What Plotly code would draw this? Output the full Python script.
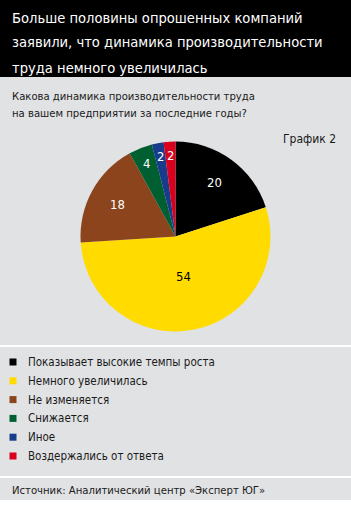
import math
import plotly.graph_objects as go

categories = ["Показывает высокие темпы роста", "Немного увеличилась", "Не изменяется",
              "Снижается", "Иное", "Воздержались от ответа"]
values = [20, 54, 18, 4, 2, 2]
colors = ["#000000", "#ffdb00", "#8b441c", "#005f30", "#183c8c", "#d8001c"]
label_colors = ["white", "black", "white", "white", "white", "white"]

title_lines = ["Больше половины опрошенных компаний",
               "заявили, что динамика производительности",
               "труда немного увеличилась"]
question_lines = ["Какова динамика производительности труда",
                  "на вашем предприятии за последние годы?"]
chart_tag = "График 2"
source = "Источник: Аналитический центр «Эксперт ЮГ»"

W, H = 351, 508
FONT = "DejaVu Sans Condensed, Roboto, sans-serif"
BG = "#e1e2e4"

def px(x):
    return x / W

def py(y):
    return 1 - y / H

cx, cy, R = 175.5, 236.5, 95

fig = go.Figure()
fig.add_trace(go.Pie(
    labels=categories, values=values, sort=False, direction="clockwise", rotation=0,
    marker=dict(colors=colors, line=dict(width=0)),
    textinfo="none", showlegend=False, hoverinfo="label+value",
    domain=dict(x=[px(cx - R), px(cx + R)], y=[py(cy + R), py(cy - R)]),
))

shapes = [
    dict(type="rect", xref="paper", yref="paper", x0=0, x1=1, y0=py(500), y1=py(77),
         fillcolor=BG, line_width=0, layer="below"),
    dict(type="rect", xref="paper", yref="paper", x0=0, x1=1, y0=py(77), y1=1,
         fillcolor="#000000", line_width=0, layer="below"),
    dict(type="line", xref="paper", yref="paper", x0=0, x1=1, y0=py(346), y1=py(346),
         line=dict(color="white", width=2)),
    dict(type="line", xref="paper", yref="paper", x0=0, x1=1, y0=py(477), y1=py(477),
         line=dict(color="white", width=2)),
]

annotations = []
for i, line in enumerate(title_lines):
    annotations.append(dict(x=px(10), y=py(17 + 25 * i), xref="paper", yref="paper",
                            text=line, showarrow=False, xanchor="left", yanchor="middle",
                            font=dict(family=FONT, size=14.6, color="white")))
for i, line in enumerate(question_lines):
    annotations.append(dict(x=px(10), y=py(96 + 17 * i), xref="paper", yref="paper",
                            text=line, showarrow=False, xanchor="left", yanchor="middle",
                            font=dict(family=FONT, size=11.2, color="#1a1a1a")))
annotations.append(dict(x=px(338), y=py(139), xref="paper", yref="paper", text=chart_tag,
                        showarrow=False, xanchor="right", yanchor="middle",
                        font=dict(family=FONT, size=12, color="#1a1a1a")))
annotations.append(dict(x=px(10), y=py(490), xref="paper", yref="paper", text=source,
                        showarrow=False, xanchor="left", yanchor="middle",
                        font=dict(family=FONT, size=11.2, color="#1a1a1a")))

# slice labels placed at mid-angle of each slice
rfac = [0.70, 0.43, 0.70, 0.83, 0.86, 0.85]
total = sum(values)
cum = 0
for v, lc, rf in zip(values, label_colors, rfac):
    mid = (cum + v / 2) / total * 2 * math.pi
    cum += v
    x = cx + rf * R * math.sin(mid)
    y = cy - rf * R * math.cos(mid)
    annotations.append(dict(x=px(x), y=py(y), xref="paper", yref="paper", text=str(v),
                            showarrow=False, xanchor="center", yanchor="middle",
                            font=dict(family=FONT, size=13, color=lc)))

# legend
for i, (cat, col) in enumerate(zip(categories, colors)):
    yc = 362 + 18.8 * i
    shapes.append(dict(type="rect", xref="paper", yref="paper",
                       x0=px(9.5), x1=px(16.5), y0=py(yc + 3.5), y1=py(yc - 3.5),
                       fillcolor=col, line_width=0))
    annotations.append(dict(x=px(26), y=py(yc), xref="paper", yref="paper", text=cat,
                            showarrow=False, xanchor="left", yanchor="middle",
                            font=dict(family=FONT, size=11.5, color="#1a1a1a")))

fig.update_layout(width=W, height=H, margin=dict(l=0, r=0, t=0, b=0),
                  paper_bgcolor="white", plot_bgcolor="white",
                  shapes=shapes, annotations=annotations)
fig.write_html("out.html")
